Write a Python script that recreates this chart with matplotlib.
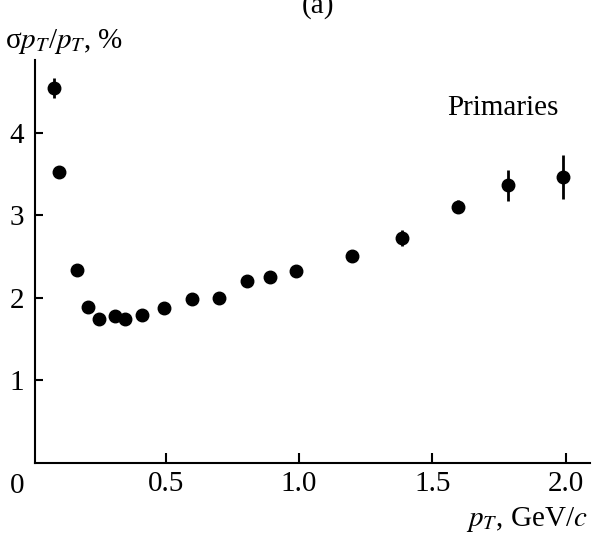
#!/usr/bin/env python3
"""Relative pT resolution of primary tracks vs pT."""

import matplotlib

matplotlib.use("Agg")
import matplotlib.pyplot as plt

# data
pt = [0.08, 0.10, 0.166, 0.207, 0.248, 0.308, 0.348, 0.41, 0.494, 0.60,
      0.70, 0.803, 0.889, 0.99, 1.20, 1.387, 1.596, 1.783, 1.99]
resolution = [4.54, 3.52, 2.34, 1.89, 1.74, 1.78, 1.74, 1.79, 1.87, 1.98,
              2.00, 2.20, 2.25, 2.32, 2.50, 2.72, 3.10, 3.36, 3.46]
errors = [0.12, 0.04, 0.04, 0.04, 0.04, 0.04, 0.04, 0.04, 0.05, 0.05,
          0.05, 0.05, 0.05, 0.05, 0.07, 0.10, 0.08, 0.19, 0.27]

xticks = [0.5, 1.0, 1.5, 2.0]
xtick_labels = ["0.5", "1.0", "1.5", "2.0"]
yticks = [1, 2, 3, 4]

plt.rcParams["font.family"] = ["Liberation Serif", "DejaVu Serif"]
plt.rcParams["mathtext.fontset"] = "stix"

fig = plt.figure(figsize=(5.94, 5.36), dpi=100)
ax = fig.add_axes([0.059, 0.137, 0.934, 0.751])

ax.errorbar(pt, resolution, yerr=errors, fmt="o", color="black",
            markersize=9, elinewidth=2, capsize=0)

ax.set_xlim(0.01, 2.09)
ax.set_ylim(0, 4.88)
ax.set_xticks(xticks)
ax.set_xticklabels(xtick_labels)
ax.set_yticks(yticks)

for side in ("top", "right"):
    ax.spines[side].set_visible(False)
for side in ("left", "bottom"):
    ax.spines[side].set_linewidth(1.5)

ax.tick_params(axis="x", direction="in", length=7, width=1.5,
               labelsize=21, pad=6)
ax.tick_params(axis="y", direction="in", length=6, width=1.5,
               labelsize=21, pad=8)

# origin label shared by both axes
ax.text(-0.032, -0.027, "0", transform=ax.transAxes, fontsize=21,
        ha="center", va="top")

ax.text(-0.054, 1.01, "σ$p_T$/$p_T$, %", transform=ax.transAxes,
        fontsize=21, ha="left", va="bottom")
ax.text(0.995, -0.106, "$p_T$, GeV/$c$", transform=ax.transAxes,
        fontsize=21, ha="right", va="top")
ax.text(0.844, 0.88, "Primaries", transform=ax.transAxes,
        fontsize=21, ha="center", va="center")
ax.text(0.51, 1.135, "(a)", transform=ax.transAxes,
        fontsize=21, ha="center", va="center")

fig.savefig("out.png", dpi=100)
